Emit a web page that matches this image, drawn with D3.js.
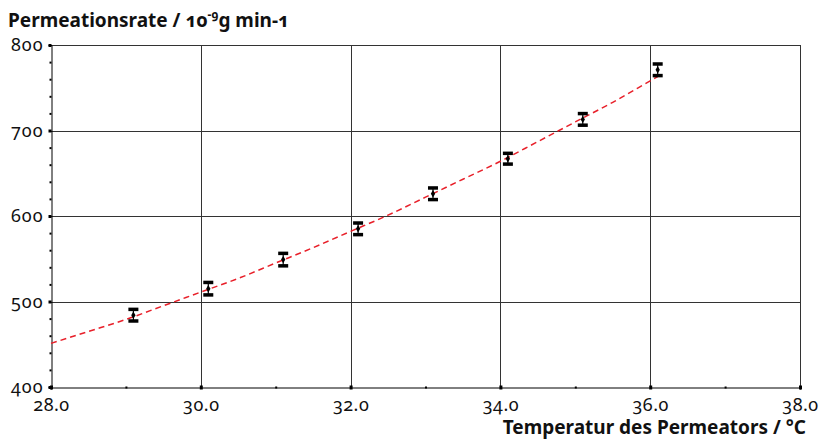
<!DOCTYPE html>
<html><head><meta charset="utf-8">
<script src="https://cdn.jsdelivr.net/npm/d3@7"></script>
<style>
body{margin:0;background:#fff}
text{font-family:"Noto Sans",sans-serif;font-variant-numeric:oldstyle-nums;font-feature-settings:"onum" 1;fill:#111}
</style>
</head><body>
<svg id="c" width="822" height="441"></svg>
<script>
// data
const temps = [29.1, 30.1, 31.1, 32.1, 33.1, 34.1, 35.1, 36.1];
const rates = [484, 515, 549, 585, 626, 667, 713, 771];
const errs  = [6.5, 7, 7, 6.5, 6.5, 6, 6.5, 6.5];
const fitT = [28, 28.5, 29, 29.5, 30, 30.5, 31, 31.5, 32, 32.5, 33, 33.5, 34, 34.5, 35, 35.5, 36, 36.1];
const fitR = [451, 465, 479, 495, 511, 527, 545, 563, 582, 601, 622, 643, 664, 687, 710, 733, 758, 763];
const xTicks = [28, 30, 32, 34, 36, 38];
const xMinor = [29, 31, 33, 35, 37];
const yTicks = [400, 500, 600, 700, 800];
const yMinor = [420,440,460,480,520,540,560,580,620,640,660,680,720,740,760,780];

const svg = d3.select("#c");
const x = d3.scaleLinear().domain([28, 38]).range([51, 800]);
const y = d3.scaleLinear().domain([400, 800]).range([387, 45]);

// grid
const g = svg.append("g");
g.selectAll(".vg").data(xTicks.slice(1)).join("line")
  .attr("x1", d => Math.round(x(d)) + 0.5).attr("x2", d => Math.round(x(d)) + 0.5)
  .attr("y1", y(800)).attr("y2", y(400))
  .attr("stroke", "#333").attr("stroke-width", 1);
g.selectAll(".hg").data(yTicks.slice(1)).join("line")
  .attr("y1", d => Math.round(y(d)) + 0.5).attr("y2", d => Math.round(y(d)) + 0.5)
  .attr("x1", x(28)).attr("x2", x(38))
  .attr("stroke", "#333").attr("stroke-width", 1);

// axes
const yAxis = d3.axisLeft(y).tickValues(yTicks).tickSize(3).tickPadding(5).tickFormat(d3.format("d"));
const yg = svg.append("g").attr("transform", `translate(${Math.round(x(28)) + 0.5},0)`).call(yAxis);
yg.select(".domain").attr("stroke", "#000");
yg.selectAll(".tick line").attr("stroke", "#000").attr("stroke-width", 3);
yg.selectAll(".tick text").attr("font-size", 18).attr("letter-spacing", 1).attr("fill", "#111");
const yMin = d3.axisLeft(y).tickValues(yMinor).tickSize(2).tickFormat("");
const ymg = svg.append("g").attr("transform", `translate(${Math.round(x(28)) + 0.5},0)`).call(yMin);
ymg.select(".domain").remove();
ymg.selectAll(".tick line").attr("stroke", "#000").attr("stroke-width", 2);

const xAxis = d3.axisBottom(x).tickValues(xTicks).tickSize(2).tickPadding(9).tickFormat(d3.format(".1f"));
const xg = svg.append("g").attr("transform", `translate(0,${Math.round(y(400)) + 0.5})`).call(xAxis);
xg.select(".domain").attr("stroke", "#000");
xg.selectAll(".tick line").attr("stroke", "#000").attr("stroke-width", 3).attr("y1", -2);
xg.selectAll(".tick text").attr("font-size", 18).attr("letter-spacing", 0.5).attr("fill", "#111");
const xMin = d3.axisBottom(x).tickValues(xMinor).tickSize(1).tickFormat("");
const xmg = svg.append("g").attr("transform", `translate(0,${Math.round(y(400)) + 0.5})`).call(xMin);
xmg.select(".domain").remove();
xmg.selectAll(".tick line").attr("stroke", "#000").attr("stroke-width", 2).attr("y1", -1);

// fit curve
const fit = fitT.map((t, i) => [t, fitR[i]]);
svg.append("path").datum(fit)
  .attr("d", d3.line().x(d => x(d[0])).y(d => y(d[1])).curve(d3.curveMonotoneX))
  .attr("fill", "none").attr("stroke", "#e8202a").attr("stroke-width", 1.5)
  .attr("stroke-dasharray", "6,4");

// error bars
const pts = temps.map((t, i) => ({t, r: rates[i], e: errs[i]}));
const eb = svg.append("g").selectAll("g").data(pts).join("g");
eb.append("line")
  .attr("x1", d => x(d.t)).attr("x2", d => x(d.t))
  .attr("y1", d => y(d.r + d.e)).attr("y2", d => y(d.r - d.e))
  .attr("stroke", "#000").attr("stroke-width", 1.2);
eb.append("rect").attr("x", d => x(d.t) - 5).attr("y", d => y(d.r + d.e) - 2)
  .attr("width", 10).attr("height", 3.5).attr("fill", "#000");
eb.append("rect").attr("x", d => x(d.t) - 5).attr("y", d => y(d.r - d.e) - 1.5)
  .attr("width", 10).attr("height", 3.5).attr("fill", "#000");
eb.append("path")
  .attr("transform", d => `translate(${x(d.t)},${y(d.r)})`)
  .attr("d", d3.symbol(d3.symbolDiamond, 16)).attr("fill", "#000");

// titles
const t1 = svg.append("text").attr("x", 8).attr("y", 27).attr("font-size", 19).attr("font-weight", "bold");
t1.append("tspan").text("Permeationsrate / 10");
t1.append("tspan").attr("font-size", 12).attr("dy", -8).text("-9");
t1.append("tspan").attr("dy", 8).text("g min-1");

svg.append("text").attr("x", 806).attr("y", 434).attr("text-anchor", "end")
  .attr("font-size", 19).attr("font-weight", "bold").text("Temperatur des Permeators / °C");
</script>
</body></html>
